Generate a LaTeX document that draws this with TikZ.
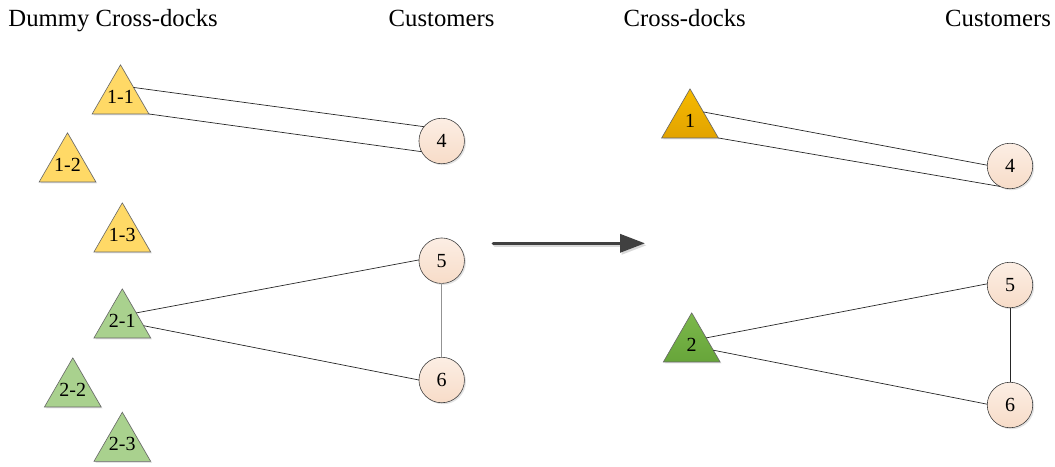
\documentclass[tikz,border=0pt]{standalone}
\usepackage{fontspec}
\setmainfont{Liberation Serif}
\usetikzlibrary{shapes.geometric,arrows.meta,calc,shadows}
\definecolor{yellowtri}{HTML}{FFD966}
\definecolor{greentri}{HTML}{A9D18E}
\definecolor{orangetop}{HTML}{F6BA00}
\definecolor{orangebot}{HTML}{E2A300}
\definecolor{dgreentop}{HTML}{7CB84B}
\definecolor{dgreenbot}{HTML}{67A53A}
\definecolor{peachtop}{HTML}{FCEEE4}
\definecolor{peachbot}{HTML}{F7DCC8}
\definecolor{edgegrey}{HTML}{404040}
\begin{document}
\begin{tikzpicture}[x=1pt,y=1pt,
  header/.style={font=\fontsize{24.7}{26}\selectfont, inner sep=0pt, anchor=base west},
  tri/.style={regular polygon, regular polygon sides=3, minimum size=65.5pt, inner sep=0pt, outer sep=0pt,
     draw=gray!80!black, line width=0.6pt,
     label={[font=\fontsize{20}{21}\selectfont, inner sep=0pt, yshift=1pt]center:#1},
     drop shadow={shadow xshift=1.5pt, shadow yshift=-1.5pt, fill=black!18, opacity=0.6}},
  ytri/.style={tri=#1, fill=yellowtri},
  gtri/.style={tri=#1, fill=greentri},
  otri/.style={tri=#1, top color=orangetop, bottom color=orangebot},
  dgtri/.style={tri=#1, top color=dgreentop, bottom color=dgreenbot},
  cust/.style={circle, minimum size=45.5pt, inner sep=0pt, outer sep=0pt, draw=edgegrey, line width=0.6pt,
     top color=peachtop, bottom color=peachbot, font=\fontsize{20}{21}\selectfont,
     drop shadow={shadow xshift=1.5pt, shadow yshift=-1.5pt, fill=black!18, opacity=0.6}},
  link/.style={draw=black!85, line width=0.7pt},
]
\useasboundingbox (0,0) rectangle (1055,-466);

% headers
\node[header] (h1) at (8.3,-26.7) {Dummy Cross-docks};
\node[header] (h2) at (388.5,-26.7) {Customers};
\node[header] (h3) at (623.5,-26.7) {Cross-docks};
\node[header] (h4) at (945,-26.7) {Customers};

% left: dummy cross-docks
\node[ytri={1-1}] (t11) at (120.5,-97.6) {};
\node[ytri={1-2}] (t12) at (67.5,-165.6) {};
\node[ytri={1-3}] (t13) at (122.3,-235.6) {};
\node[gtri={2-1}] (t21) at (122.3,-321.6) {};
\node[gtri={2-2}] (t22) at (72.8,-390.6) {};
\node[gtri={2-3}] (t23) at (122.3,-445) {};

% left: customers
\node[cust] (c4) at (441.7,-141) {4};
\node[cust] (c5) at (441.7,-260.7) {5};
\node[cust] (c6) at (441.7,-380) {6};

% right: cross-docks
\node[otri={1}] (r1) at (690,-121.6) {};
\node[dgtri={2}] (r2) at (691.7,-345.6) {};

% right: customers
\node[cust] (d4) at (1010,-166) {4};
\node[cust] (d5) at (1010,-285) {5};
\node[cust] (d6) at (1010,-405) {6};

% left connectors
\draw[link] ($(t11.corner 1)!0.46!(t11.corner 3)$) -- (c4.141);
\draw[link] (t11.corner 3) -- (c4.208);
\draw[link] ($(t21.corner 1)!0.49!(t21.corner 3)$) -- (c5.178);
\draw[link] ($(t21.corner 1)!0.75!(t21.corner 3)$) -- (c6.180);
\draw[draw=gray!85, line width=1.3pt] (c5.south) -- (c6.north);

% right connectors
\draw[link] ($(r1.corner 1)!0.47!(r1.corner 3)$) -- (d4.178);
\draw[link] (r1.corner 3) -- (d4.244);
\draw[link] ($(r2.corner 1)!0.51!(r2.corner 3)$) -- (d5.177);
\draw[link] ($(r2.corner 1)!0.76!(r2.corner 3)$) -- (d6.178);
\draw[link] (d5.south) -- (d6.north);

% big arrow
\coordinate (a1) at (493.3,-243.3);
\coordinate (a2) at (645,-243.3);
\draw[black!15, line width=3.5pt, line cap=round, -{Triangle[length=25pt,width=18pt]}]
  ($(a1)+(1.5,-2)$) -- ($(a2)+(1.5,-2)$);
\draw[edgegrey, line width=3.5pt, line cap=round, -{Triangle[length=25pt,width=18pt]}] (a1) -- (a2);
\end{tikzpicture}
\end{document}
